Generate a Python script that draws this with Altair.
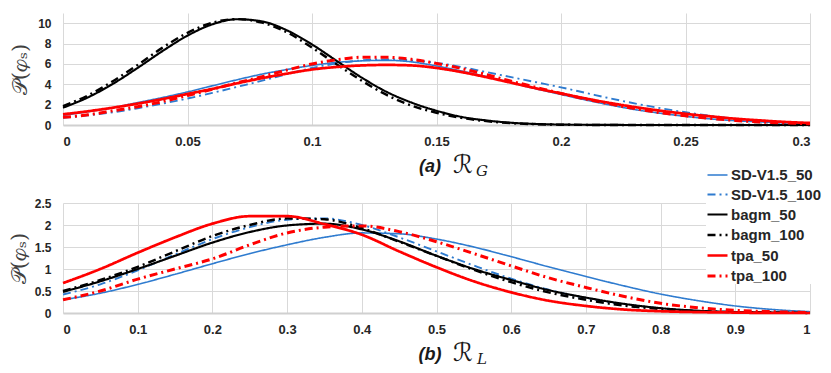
import altair as alt
import pandas as pd

series = ["SD-V1.5_50", "SD-V1.5_100", "bagm_50", "bagm_100", "tpa_50", "tpa_100"]
colors = ["#2E7BCF", "#2E7BCF", "#000000", "#000000", "#FF0000", "#FF0000"]
dashes = [[1, 0], [8, 4, 2, 4], [1, 0], [8, 4, 2, 4], [1, 0], [8, 4, 2, 4]]
widths = [1.6, 3.0, 1.8, 3.0, 1.6, 3.0]

# ---- panel (a): R_G ----
xa = [0.00, 0.01, 0.02, 0.03, 0.04, 0.05, 0.06, 0.07, 0.08, 0.09, 0.10,
      0.11, 0.12, 0.13, 0.14, 0.15, 0.16, 0.17, 0.18, 0.19, 0.20,
      0.21, 0.22, 0.23, 0.24, 0.25, 0.26, 0.27, 0.28, 0.29, 0.30]
a_sd50 = [0.95, 1.3, 1.7, 2.2, 2.7, 3.25, 3.85, 4.45, 5.0, 5.45, 5.85,
          6.15, 6.3, 6.35, 6.2, 5.8, 5.3, 4.75, 4.15, 3.55, 3.0,
          2.45, 1.95, 1.5, 1.15, 0.85, 0.6, 0.42, 0.3, 0.2, 0.13]
a_sd100 = [0.7, 0.95, 1.25, 1.65, 2.1, 2.6, 3.15, 3.75, 4.35, 5.0, 5.6,
           6.05, 6.35, 6.45, 6.35, 6.1, 5.7, 5.2, 4.7, 4.2, 3.7,
           3.15, 2.6, 2.1, 1.65, 1.25, 0.9, 0.62, 0.4, 0.25, 0.15]
a_bagm50 = [1.7, 2.71, 4.04, 5.61, 7.27, 8.78, 9.89, 10.39, 10.17, 9.29, 7.91,
            6.28, 4.65, 3.25, 2.2, 1.4, 0.8, 0.45, 0.22, 0.1, 0.04,
            0.02, 0.01, 0.0, 0.0, 0.0, 0.0, 0.0, 0.0, 0.0, 0.0]
a_bagm100 = [1.85, 2.9, 4.3, 5.9, 7.6, 9.05, 10.05, 10.4, 10.05, 9.1, 7.6,
             5.95, 4.35, 2.95, 1.9, 1.2, 0.7, 0.38, 0.18, 0.08, 0.03,
             0.01, 0.0, 0.0, 0.0, 0.0, 0.0, 0.0, 0.0, 0.0, 0.0]
a_tpa50 = [1.05, 1.35, 1.7, 2.1, 2.55, 3.05, 3.55, 4.1, 4.6, 5.05, 5.45,
           5.7, 5.85, 5.9, 5.85, 5.6, 5.2, 4.7, 4.15, 3.6, 3.1,
           2.6, 2.15, 1.75, 1.4, 1.1, 0.85, 0.62, 0.45, 0.3, 0.2]
a_tpa100 = [0.75, 1.0, 1.4, 1.8, 2.3, 2.9, 3.5, 4.15, 4.75, 5.4, 6.0,
            6.4, 6.65, 6.65, 6.45, 6.05, 5.55, 4.95, 4.3, 3.7, 3.1,
            2.55, 2.05, 1.6, 1.2, 0.9, 0.65, 0.45, 0.3, 0.2, 0.12]

# ---- panel (b): R_L ----
xb = [0.0, 0.05, 0.1, 0.15, 0.2, 0.25, 0.3, 0.35, 0.4, 0.45, 0.5,
      0.55, 0.6, 0.65, 0.7, 0.75, 0.8, 0.85, 0.9, 0.95, 1.0]
b_sd50 = [0.3, 0.45, 0.65, 0.88, 1.12, 1.35, 1.55, 1.72, 1.82, 1.8, 1.68,
          1.5, 1.28, 1.05, 0.83, 0.62, 0.43, 0.28, 0.16, 0.08, 0.03]
b_sd100 = [0.42, 0.65, 0.97, 1.33, 1.68, 1.95, 2.12, 2.15, 2.0, 1.72, 1.4,
           1.08, 0.78, 0.53, 0.34, 0.2, 0.11, 0.05, 0.02, 0.01, 0.0]
b_bagm50 = [0.48, 0.72, 1.0, 1.3, 1.6, 1.84, 1.99, 2.03, 1.9, 1.63, 1.3,
            1.0, 0.75, 0.52, 0.35, 0.21, 0.11, 0.05, 0.02, 0.01, 0.0]
b_bagm100 = [0.5, 0.75, 1.05, 1.4, 1.75, 2.0, 2.15, 2.13, 1.93, 1.62, 1.3,
             0.98, 0.7, 0.47, 0.3, 0.17, 0.09, 0.04, 0.02, 0.01, 0.0]
b_tpa50 = [0.68, 1.0, 1.37, 1.72, 2.03, 2.2, 2.2, 2.02, 1.78, 1.4, 1.04,
           0.72, 0.47, 0.28, 0.16, 0.08, 0.04, 0.02, 0.01, 0.0, 0.0]
b_tpa100 = [0.3, 0.5, 0.77, 1.0, 1.23, 1.55, 1.82, 1.95, 1.98, 1.85, 1.62,
            1.35, 1.07, 0.8, 0.58, 0.38, 0.22, 0.12, 0.06, 0.03, 0.01]

ticks_a_x = [0, 0.05, 0.1, 0.15, 0.2, 0.25, 0.3]
ticks_a_y = [0, 2, 4, 6, 8, 10]
ticks_b_x = [0, 0.1, 0.2, 0.3, 0.4, 0.5, 0.6, 0.7, 0.8, 0.9, 1.0]
ticks_b_y = [0, 0.5, 1, 1.5, 2, 2.5]

y_title = "𝒫(𝜑ₛ)"
title_a = ["(a)", "ℛ", "G"]
title_b = ["(b)", "ℛ", "L"]


def long_df(x, cols):
    rows = []
    for name, vals in zip(series, cols):
        for xv, yv in zip(x, vals):
            rows.append({"x": xv, "y": yv, "series": name})
    return pd.DataFrame(rows)


df_a = long_df(xa, [a_sd50, a_sd100, a_bagm50, a_bagm100, a_tpa50, a_tpa100])
df_b = long_df(xb, [b_sd50, b_sd100, b_bagm50, b_bagm100, b_tpa50, b_tpa100])

LBL_FONT = "Liberation Sans"

legend = alt.Legend(
    title=None, orient="none", legendX=643, legendY=151,
    symbolType="stroke", symbolSize=400, symbolStrokeWidth=2.6,
    labelFont=LBL_FONT, labelFontWeight="bold", labelFontSize=15,
    labelColor="#262626", rowPadding=0.5, labelOffset=2, padding=0,
    fillColor="white",
)


def panel(df, xdom, xticks, ydom, yticks, W, H, ttl, title_y_pad):
    lines = alt.Chart(df).mark_line(interpolate="monotone").encode(
        x=alt.X("x:Q", scale=alt.Scale(domain=xdom, nice=False, zero=False),
                axis=alt.Axis(values=xticks, format="~r", title=None,
                              labelPadding=10)),
        y=alt.Y("y:Q", scale=alt.Scale(domain=ydom, nice=False),
                axis=alt.Axis(values=yticks, format="~r", title=y_title,
                              labelPadding=12, titlePadding=title_y_pad,
                              labelFontSize=12,
                              titleFont="DejaVu Serif", titleFontSize=21,
                              titleFontWeight="normal", titleColor="#404040")),
        color=alt.Color("series:N", scale=alt.Scale(domain=series, range=colors),
                        legend=legend),
        strokeDash=alt.StrokeDash("series:N", scale=alt.Scale(domain=series, range=dashes),
                                  legend=legend),
        strokeWidth=alt.StrokeWidth("series:N", scale=alt.Scale(domain=series, range=widths),
                                    legend=None),
    )
    t1 = alt.Chart(pd.DataFrame({"t": [ttl[0]]})).mark_text(
        font=LBL_FONT, fontSize=18, fontWeight="bold", fontStyle="italic",
        color="#1a1a1a").encode(text="t:N", x=alt.value(367), y=alt.value(H + 42))
    t2 = alt.Chart(pd.DataFrame({"t": [ttl[1]]})).mark_text(
        font="DejaVu Sans", fontSize=25, color="#1a1a1a").encode(
        text="t:N", x=alt.value(400), y=alt.value(H + 40))
    t3 = alt.Chart(pd.DataFrame({"t": [ttl[2]]})).mark_text(
        font="DejaVu Serif", fontSize=15, fontStyle="italic", color="#1a1a1a").encode(
        text="t:N", x=alt.value(419), y=alt.value(H + 46))
    return alt.layer(lines, t1, t2, t3).properties(width=W, height=H)


pa = panel(df_a, [0, 0.3], ticks_a_x, [0, 11], ticks_a_y, 747, 112, title_a, 7)
pb = panel(df_b, [0, 1], ticks_b_x, [0, 2.5], ticks_b_y, 747, 110, title_b, 5)

chart = alt.vconcat(pa, pb, spacing=18).properties(
    padding={"left": 0, "top": 5, "right": 0, "bottom": 0}
).configure_view(stroke=None).configure_axis(
    grid=True, gridColor="#d9d9d9", gridWidth=1, ticks=False,
    domain=False, labelFont=LBL_FONT, labelFontWeight="bold",
    labelFontSize=13, labelColor="#262626",
).configure_axisX(domain=True, domainColor="#d0d0d0", domainWidth=2)

chart.save("out.html", embed_options={"renderer": "svg", "actions": False})
